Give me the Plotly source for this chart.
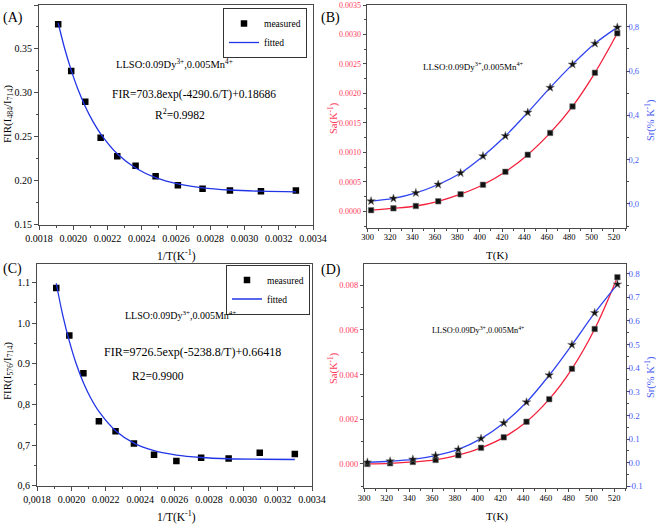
import plotly.graph_objects as go

# ---------------- data ----------------
# Panel A / C : measured FIR vs 1/T
inv_t = [0.001912, 0.001988, 0.002070, 0.002160, 0.002257, 0.002364,
         0.002481, 0.002611, 0.002755, 0.002915, 0.003096, 0.003300]
fir_a_measured = [0.378, 0.325, 0.290, 0.249, 0.228, 0.217,
                  0.205, 0.195, 0.191, 0.189, 0.188, 0.189]
fir_c_measured = [1.087, 0.970, 0.877, 0.759, 0.734, 0.704,
                  0.676, 0.661, 0.669, 0.667, 0.681, 0.678]

# fitted curves
fit_inv_t = [0.001912, 0.001949, 0.001988, 0.002028, 0.002070, 0.002114, 0.002160,
             0.002257, 0.002364, 0.002481, 0.002611, 0.002755, 0.002915, 0.003096, 0.003300]
fir_a_fitted = [0.3795, 0.3511, 0.3259, 0.3038, 0.2846, 0.2678, 0.2534,
                0.2307, 0.2146, 0.2036, 0.1965, 0.1920, 0.1895, 0.1881, 0.1874]
fir_c_fitted = [1.0986, 1.0215, 0.9559, 0.9003, 0.8537, 0.8149, 0.7829,
                0.7354, 0.7049, 0.6862, 0.6753, 0.6694, 0.6664, 0.6651, 0.6645]

# Panel B / D : sensitivities vs T
temps = [303, 323, 343, 363, 383, 403, 423, 443, 463, 483, 503, 523]
sa_b = [0.00002, 0.00005, 0.00009, 0.00017, 0.00029, 0.00045,
        0.00067, 0.00096, 0.00133, 0.00178, 0.00235, 0.00302]
sr_b = [0.013, 0.025, 0.050, 0.088, 0.140, 0.216,
        0.307, 0.413, 0.525, 0.630, 0.724, 0.797]
sa_d = [0.00000, 0.00003, 0.00009, 0.00018, 0.00039, 0.00072,
        0.00119, 0.00189, 0.00290, 0.00426, 0.00604, 0.00836]
sr_d = [0.0014, 0.006, 0.014, 0.030, 0.056, 0.102,
        0.168, 0.256, 0.370, 0.499, 0.634, 0.755]

# tick labels
inv_t_ticks = [0.0018, 0.0020, 0.0022, 0.0024, 0.0026, 0.0028, 0.0030, 0.0032, 0.0034]
inv_t_text_a = ["0.0018", "0.0020", "0.0022", "0.0024", "0.0026", "0.0028", "0.0030", "0.0032", "0.0034"]
inv_t_text_c = ["0,0018", "0.0020", "0.0022", "0.0024", "0.0026", "0.0028", "0.0030", "0.0032", "0.0034"]
fir_a_ticks = [0.15, 0.20, 0.25, 0.30, 0.35, 0.40]
fir_a_text = ["0.15", "0.20", "0.25", "0.30", "0.35", "0.40"]
fir_c_ticks = [0.6, 0.7, 0.8, 0.9, 1.0, 1.1]
fir_c_text = ["0,6", "0,7", "0,8", "0.9", "1.0", "1.1"]
t_ticks = [300, 320, 340, 360, 380, 400, 420, 440, 460, 480, 500, 520]
t_text = [str(v) for v in t_ticks]
sa_b_ticks = [0.0, 0.0005, 0.0010, 0.0015, 0.0020, 0.0025, 0.0030, 0.0035]
sa_b_text = ["0.0000", "0.0005", "0.0010", "0.0015", "0.0020", "0.0025", "0.0030", "0.0035"]
sr_b_ticks = [0.0, 0.2, 0.4, 0.6, 0.8]
sr_b_text = ["0,0", "0,2", "0,4", "0,6", "0,8"]
sa_d_ticks = [0.0, 0.002, 0.004, 0.006, 0.008]
sa_d_text = ["0.000", "0.002", "0.004", "0.006", "0.008"]
sr_d_ticks = [-0.1, 0.0, 0.1, 0.2, 0.3, 0.4, 0.5, 0.6, 0.7, 0.8]
sr_d_text = ["-0.1", "0.0", "0.1", "0.2", "0.3", "0.4", "0.5", "0.6", "0.7", "0.8"]

# ---------------- styling ----------------
W, H = 656, 524
def fx(px):
    return px / W
def fy(py):
    return 1 - py / H

SERIF = "Liberation Serif"
AX = "#4a4a4a"
RED = "#f4203c"
RED_TXT = "#ff3a5c"
BLUE = "#2f43f0"
BLUE_TXT = "#4a5cf5"
FIT = "#2235e6"

fig = go.Figure()

# Panel A
fig.add_trace(go.Scatter(x=inv_t, y=fir_a_measured, mode="markers", name="measured",
                         marker=dict(symbol="square", size=6.5, color="black"),
                         xaxis="x", yaxis="y", legend="legend"))
fig.add_trace(go.Scatter(x=fit_inv_t, y=fir_a_fitted, mode="lines", name="fitted",
                         line=dict(color=FIT, width=1.3, shape="spline"),
                         xaxis="x", yaxis="y", legend="legend"))
# Panel C
fig.add_trace(go.Scatter(x=inv_t, y=fir_c_measured, mode="markers", name="measured",
                         marker=dict(symbol="square", size=6.5, color="black"),
                         xaxis="x3", yaxis="y4", legend="legend2"))
fig.add_trace(go.Scatter(x=fit_inv_t, y=fir_c_fitted, mode="lines", name="fitted",
                         line=dict(color=FIT, width=1.3, shape="spline"),
                         xaxis="x3", yaxis="y4", legend="legend2"))

sq = dict(symbol="square", size=5.5, color="#111111", line=dict(color="#777777", width=0.6))
st = dict(symbol="star", size=6.5, color="#111111", line=dict(color="#777777", width=0.5))
# Panel B
fig.add_trace(go.Scatter(x=temps, y=sa_b, mode="lines+markers", name="Sa",
                         line=dict(color=RED, width=1.3, shape="spline"), marker=sq,
                         xaxis="x2", yaxis="y2", showlegend=False))
fig.add_trace(go.Scatter(x=temps, y=sr_b, mode="lines+markers", name="Sr",
                         line=dict(color=BLUE, width=1.3, shape="spline"), marker=st,
                         xaxis="x2", yaxis="y3", showlegend=False))
# Panel D
fig.add_trace(go.Scatter(x=temps, y=sa_d, mode="lines+markers", name="Sa",
                         line=dict(color=RED, width=1.3, shape="spline"), marker=sq,
                         xaxis="x4", yaxis="y5", showlegend=False))
fig.add_trace(go.Scatter(x=temps, y=sr_d, mode="lines+markers", name="Sr",
                         line=dict(color=BLUE, width=1.3, shape="spline"), marker=st,
                         xaxis="x4", yaxis="y6", showlegend=False))


def axis(domain, rng, tickvals, ticktext, minor_dtick, anchor,
         tick_size=10, tick_color="black", mirror=True, side=None, overlaying=None,
         ticklen=4, label_standoff=0):
    d = dict(range=rng, tickmode="array", tickvals=tickvals, ticktext=ticktext,
             showline=True, linecolor=AX, linewidth=1, mirror=mirror,
             ticks="outside", ticklen=ticklen, tickcolor=AX, tickwidth=1,
             tickfont=dict(family=SERIF, size=tick_size, color=tick_color),
             minor=dict(dtick=minor_dtick, tick0=tickvals[0], ticks="outside", ticklen=2,
                        tickcolor=AX, tickwidth=1),
             showgrid=False, zeroline=False, automargin=False, anchor=anchor,
             ticklabelstandoff=label_standoff)
    if domain is not None:
        d["domain"] = domain
    if side:
        d["side"] = side
    if overlaying:
        d["overlaying"] = overlaying
    return d

layout = dict(
    width=W, height=H, margin=dict(l=0, r=0, t=0, b=0),
    paper_bgcolor="white", plot_bgcolor="white",
    font=dict(family=SERIF, color="black"),
    xaxis=axis([fx(39), fx(313)], [0.0018, 0.0034], inv_t_ticks, inv_t_text_a, 0.0001, "y"),
    yaxis=axis([fy(224.7), fy(5)], [0.15, 0.40], fir_a_ticks, fir_a_text, 0.025, "x"),
    xaxis2=axis([fx(366.7), fx(625.7)], [299.1, 530.5], t_ticks, t_text, 10, "y2",
                tick_size=8.5, ticklen=3, label_standoff=-2),
    yaxis2=axis([fy(227.7), fy(5)], [-0.000278, 0.0035], sa_b_ticks, sa_b_text, 0.00025,
                "x2", tick_size=8, tick_color=RED_TXT, mirror=False, ticklen=3),
    yaxis3=axis(None, [-0.107, 0.898], sr_b_ticks, sr_b_text, 0.1, "x2",
                tick_size=8.5, tick_color=BLUE_TXT, mirror=False, side="right",
                overlaying="y2", ticklen=3, label_standoff=-3),
    xaxis3=axis([fx(37), fx(312)], [0.0018, 0.0034], inv_t_ticks, inv_t_text_c, 0.0001, "y4"),
    yaxis4=axis([fy(485.7), fy(264)], [0.6, 1.146], fir_c_ticks, fir_c_text, 0.05, "x3"),
    xaxis4=axis([fx(364), fx(625.7)], [300, 530.3], t_ticks, t_text, 10, "y5",
                tick_size=8.5, ticklen=3, label_standoff=-2),
    yaxis5=axis([fy(488.3), fy(264)], [-0.00109, 0.00895], sa_d_ticks, sa_d_text, 0.001,
                "x4", tick_size=8.5, tick_color=RED_TXT, mirror=False, ticklen=3),
    yaxis6=axis(None, [-0.1085, 0.841], sr_d_ticks, sr_d_text, 0.05, "x4",
                tick_size=9, tick_color=BLUE_TXT, mirror=False, side="right",
                overlaying="y5", ticklen=3, label_standoff=-3),
    legend=dict(x=fx(307), y=fy(8), xanchor="right", yanchor="top",
                bordercolor="#333333", borderwidth=1, bgcolor="white",
                font=dict(family=SERIF, size=9.5), itemwidth=30, tracegroupgap=0),
    legend2=dict(x=fx(310), y=fy(264.5), xanchor="right", yanchor="top",
                 bordercolor="#333333", borderwidth=1, bgcolor="white",
                 font=dict(family=SERIF, size=9.5), itemwidth=30, tracegroupgap=0),
)
fig.update_layout(**layout)

def note(text, x, y, size, color="black", angle=0):
    fig.add_annotation(text=text, x=fx(x), y=fy(y), xref="paper", yref="paper",
                       showarrow=False, xanchor="center", yanchor="middle",
                       textangle=angle,
                       font=dict(family=SERIF, size=size, color=color))

# panel letters
note("(A)", 13, 18, 14)
note("(B)", 330, 18, 14)
note("(C)", 12, 269, 14)
note("(D)", 331, 270, 14)

# axis titles
note("1/T(K<sup>-1</sup>)", 176, 255, 11.5)
note("1/T(K<sup>-1</sup>)", 176, 516, 11.5)
note("T(K)", 497, 255, 11)
note("T(K)", 497, 516, 11)
note("FIR(I<sub>484</sub>/I<sub>714</sub>)", 8, 114, 11, angle=-90)
note("FIR(I<sub>576</sub>/I<sub>714</sub>)", 8, 371, 11, angle=-90)
note("Sa(K<sup>-1</sup>)", 333, 118, 10.5, RED_TXT, angle=-90)
note("Sa(K<sup>-1</sup>)", 333, 368, 10.5, RED_TXT, angle=-90)
note("Sr(% K<sup>-1</sup>)", 650, 120, 10.5, BLUE_TXT, angle=-90)
note("Sr(% K<sup>-1</sup>)", 650, 377, 10.5, BLUE_TXT, angle=-90)

# in-plot texts
note("LLSO:0.09Dy<sup>3+</sup>,0.005Mn<sup>4+</sup>", 174, 63, 10.5)
note("FIR=703.8exp(-4290.6/T)+0.18686", 194, 94, 11.5)
note("R<sup>2</sup>=0.9982", 180, 114, 11.5)
note("LLSO:0.09Dy<sup>3+</sup>,0.005Mn<sup>4+</sup>", 180, 315, 10)
note("FIR=9726.5exp(-5238.8/T)+0.66418", 192, 352, 12)
note("R2=0.9900", 158, 376, 11.5)
note("LLSO:0.09Dy<sup>3+</sup>,0.005Mn<sup>4+</sup>", 473, 66, 9)
note("LLSO:0.09Dy<sup>3+</sup>,0.005Mn<sup>4+</sup>", 478, 330, 8.3)

fig.write_html("out.html", config={"displayModeBar": False},
               post_script="document.body.style.margin='0';document.body.style.overflow='hidden';")
